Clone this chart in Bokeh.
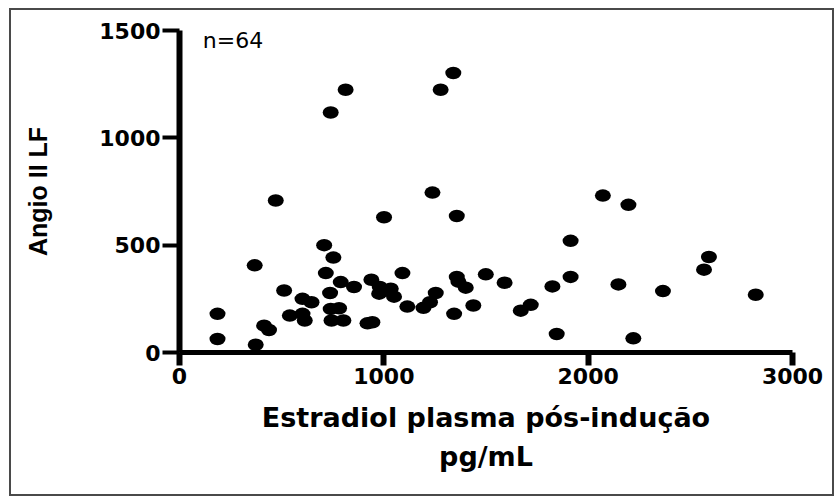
from bokeh.plotting import figure
from bokeh.models import Range1d, FixedTicker, Label, InlineStyleSheet
from bokeh.embed import file_html
from bokeh.resources import INLINE

# Data
estradiol = [186, 186, 368, 373, 414, 438, 471, 512, 540, 602,
             602, 613, 646, 708, 716, 737, 753, 740, 744, 781,
             789, 802, 854, 920, 944, 939, 977, 980, 1034, 1050,
             1001, 1091, 1115, 1194, 1226, 1254, 1238, 1344, 1357, 1357,
             1365, 1401, 1438, 1499, 1591, 1670, 1719, 1825, 1846, 1914,
             1914, 2072, 2197, 2148, 2221, 2366, 2567, 2591, 2820, 740,
             813, 1278, 1340, 1010]
angio = [180, 63, 406, 36, 125, 105, 708, 289, 172, 250,
         180, 149, 234, 500, 370, 277, 442, 203, 149, 206,
         328, 149, 305, 136, 141, 339, 274, 305, 297, 260,
         630, 370, 214, 208, 234, 277, 745, 180, 636, 352,
         330, 302, 219, 364, 325, 195, 222, 308, 86, 520,
         352, 731, 688, 317, 66, 286, 386, 445, 269, 1118,
         1224, 1224, 1302, 290]
x_ticks = [0, 1000, 2000, 3000]
y_ticks = [0, 500, 1000, 1500]
x_label = "Estradiol plasma pós-indução\npg/mL"
y_label = "Angio II LF"
annotation = "n=64"

p = figure(width=840, height=498, output_backend="svg", toolbar_location=None,
           x_range=Range1d(0, 3000), y_range=Range1d(0, 1500),
           min_border_left=179, min_border_right=48,
           min_border_top=30, min_border_bottom=146)
p.background_fill_color = "white"
p.border_fill_color = "white"
p.outline_line_color = None
p.xgrid.visible = False
p.ygrid.visible = False

p.ellipse(x=estradiol, y=angio, width=16, height=12.5,
          width_units="screen", height_units="screen",
          fill_color="black", line_color=None)

xa = p.xaxis[0]
xa.ticker = FixedTicker(ticks=x_ticks)
xa.minor_tick_line_color = None
xa.axis_line_width = 5
xa.major_tick_line_width = 6
xa.major_tick_out = 13
xa.major_tick_in = 0
xa.major_label_standoff = 2
xa.major_label_text_font = "DejaVu Sans"
xa.major_label_text_font_style = "bold"
xa.major_label_text_font_size = "22px"
xa.major_label_text_color = "black"
xa.axis_label = x_label
xa.axis_label_text_font = "DejaVu Sans"
xa.axis_label_text_font_style = "bold"
xa.axis_label_text_font_size = "27px"
xa.axis_label_text_color = "black"
xa.axis_label_text_line_height = 1.28
xa.axis_label_standoff = 15

ya = p.yaxis[0]
ya.ticker = FixedTicker(ticks=y_ticks)
ya.minor_tick_line_color = None
ya.axis_line_width = 6
ya.major_tick_line_width = 4
ya.major_tick_out = 17
ya.major_tick_in = 0
ya.major_label_standoff = 2
ya.major_label_text_font = "DejaVu Sans"
ya.major_label_text_font_style = "bold"
ya.major_label_text_font_size = "22px"
ya.major_label_text_color = "black"
ya.axis_label = y_label
ya.axis_label_text_font = "Liberation Sans"
ya.axis_label_text_font_style = "bold"
ya.axis_label_text_font_size = "25px"
ya.axis_label_text_color = "black"
ya.axis_label_standoff = 44

p.add_layout(Label(x=114, y=1453, text=annotation, text_font="DejaVu Sans",
                   text_font_size="22px", text_color="black",
                   text_baseline="alphabetic"))

frame_css = (":host{position:relative;}"
             ":host::after{content:'';position:absolute;left:9px;top:8px;"
             "width:825px;height:488px;border:2px solid #4a4a4a;"
             "box-sizing:border-box;pointer-events:none;z-index:100;}")
p.stylesheets = [InlineStyleSheet(css=frame_css)]

open("out.html", "w").write(file_html(p, INLINE))
